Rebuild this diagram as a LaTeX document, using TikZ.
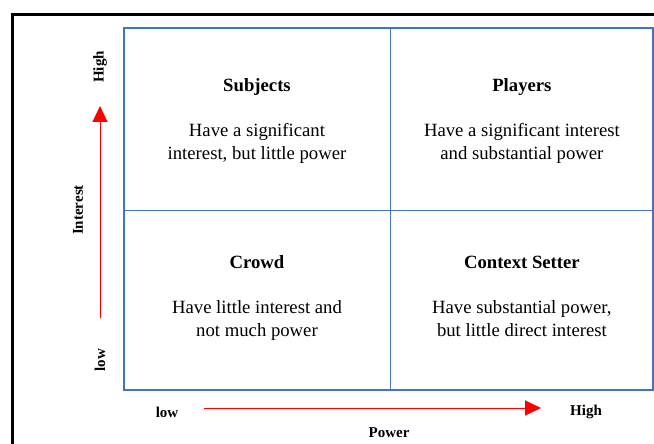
\documentclass[tikz,border=0pt]{standalone}
\usepackage{fontspec}
\setmainfont{Liberation Serif}
\usepackage{xcolor}
\usetikzlibrary{positioning}
\usetikzlibrary{arrows.meta}
\definecolor{gridblue}{RGB}{68,114,196}
\newcommand{\topgap}{\rule{0pt}{20.1pt}}
\newcommand{\botgap}{\rule[-12.9pt]{0pt}{12.9pt}}
\begin{document}
\begin{tikzpicture}[
		x=1pt, y=-1pt,
		quad/.style={
			rectangle,
			draw=gridblue,
			line width=0.9pt,
			align=center,
			minimum width=266pt,
			minimum height=182pt,
			font=\fontsize{18.7}{23}\selectfont
		},
		axislabel/.style={
			font=\fontsize{15}{18}\selectfont\bfseries
		},
		axisarrow/.style={
			red,
			line width=1pt,
			-{Triangle[length=16pt, width=15pt]}
		}
	]
		\useasboundingbox (0,0) rectangle (654,444);
		
		\draw[line width=3pt] (12,450) -- (12,15) -- (660,15);
		
		\draw node[quad](Q1) at (257,119){\topgap\textbf{Subjects}\\[22pt] Have a significant\\ interest, but little power\strut};
		\draw node[quad, minimum width=262pt, right=0 of Q1](Q2){\topgap\textbf{Players}\\[22pt] Have a significant interest\\ and substantial power\strut};
		\draw node[quad, minimum height=179pt, below=0 of Q1](Q3){\strut\textbf{Crowd}\\[22pt] Have little interest and\\ not much power\botgap};
		\draw node[quad, minimum width=262pt, minimum height=179pt, below=0 of Q2](Q4){\strut\textbf{Context Setter}\\[22pt] Have substantial power,\\ but little direct interest\botgap};
		
		\draw[gridblue, line width=2pt] (Q1.north west) rectangle (Q4.south east);
		
		\node[axislabel, rotate=90](yhigh) at (100,67) {High};
		\node[axislabel, rotate=90](ylow) at (100,360) {low};
		\node[axislabel, rotate=90](ylabel) at (78,210) {Interest};
		\node[axislabel](xlow) at (167,412) {low};
		\node[axislabel](xhigh) at (586,412) {High};
		\node[axislabel](xlabel) at (389,433) {Power};
		
		\coordinate (ystart) at (100,318);
		\coordinate (yend) at (100,106);
		\coordinate (xstart) at (204,408);
		\coordinate (xend) at (541,408);
		\draw[axisarrow] (ystart) -- (yend);
		\draw[axisarrow] (xstart) -- (xend);
	\end{tikzpicture}
\end{document}
